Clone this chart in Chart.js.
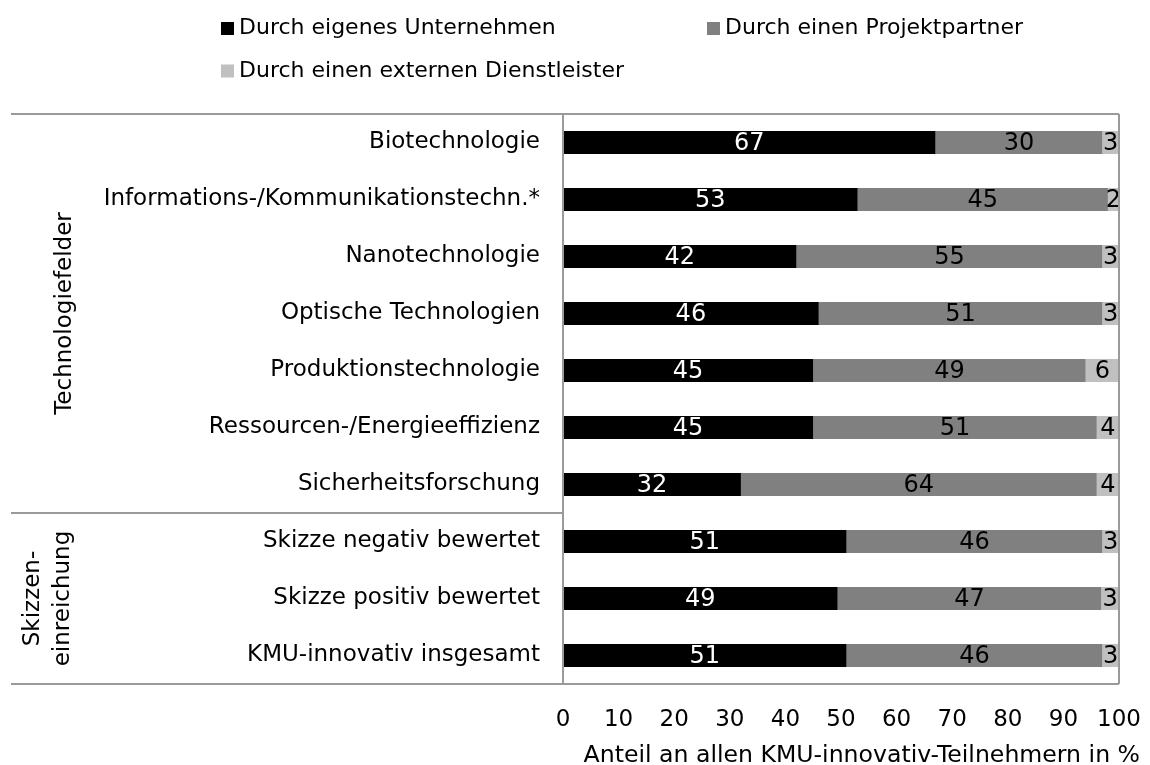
<!DOCTYPE html>
<html><head><meta charset="utf-8">
<script src="https://cdn.jsdelivr.net/npm/chart.js@4.4.1/dist/chart.umd.min.js"></script>
<style>html,body{margin:0;padding:0;background:#fff}#wrap{width:1150px;height:765px;position:relative}</style>
</head><body><div id="wrap"><canvas id="c" width="1150" height="765"></canvas></div>
<script>
const categories = ['Biotechnologie','Informations-/Kommunikationstechn.*','Nanotechnologie','Optische Technologien','Produktionstechnologie','Ressourcen-/Energieeffizienz','Sicherheitsforschung','Skizze negativ bewertet','Skizze positiv bewertet','KMU-innovativ insgesamt'];
const eigenesUnternehmen = [67,53,42,46,45,45,32,51,49.4,51];
const projektpartner = [30,45,55,51,49,51,64,46,47.4,46];
const externerDienstleister = [3,2,3,3,6,4,4,3,3.2,3];
const seriesNames = ['Durch eigenes Unternehmen','Durch einen Projektpartner','Durch einen externen Dienstleister'];
const xTicks = [0,10,20,30,40,50,60,70,80,90,100];
const groupLabels = [['Technologiefelder'], ['Skizzen-','einreichung']];
const groupRanges = [[0,6],[7,9]];
const xTitle = 'Anteil an allen KMU-innovativ-Teilnehmern in %';

const FONT = 'DejaVu Sans';
const LINE = '#9a9a9a';

const decor = {
  id:'decor',
  afterDatasetsDraw(chart){
    const ctx = chart.ctx, a = chart.chartArea, ys = chart.scales.y;
    ctx.save();
    // data labels
    ctx.font = '24px "'+FONT+'"';
    ctx.textAlign = 'center'; ctx.textBaseline = 'middle';
    chart.data.datasets.forEach((ds,i)=>{
      const meta = chart.getDatasetMeta(i);
      meta.data.forEach((bar,j)=>{
        ctx.fillStyle = ds.labelColor;
        ctx.fillText(String(Math.round(ds.data[j])), (bar.x+bar.base)/2, bar.y+1);
      });
    });
    // frame lines
    ctx.strokeStyle = LINE; ctx.lineWidth = 2;
    const leftX = 11;
    const sepY = Math.round((ys.getPixelForValue(groupRanges[0][1]) + ys.getPixelForValue(groupRanges[1][0]))/2);
    ctx.beginPath();
    ctx.moveTo(leftX, a.top); ctx.lineTo(a.right, a.top);
    ctx.moveTo(leftX, a.bottom); ctx.lineTo(a.right, a.bottom);
    ctx.moveTo(a.right, a.top); ctx.lineTo(a.right, a.bottom);
    ctx.moveTo(a.left, a.top); ctx.lineTo(a.left, a.bottom);
    ctx.moveTo(leftX, sepY); ctx.lineTo(a.left, sepY);
    ctx.stroke();
    // group labels
    ctx.fillStyle = '#000';
    ctx.font = '23px "'+FONT+'"';
    const bounds = [[a.top, sepY],[sepY, a.bottom]];
    const xs = [[65],[33,63]];
    groupLabels.forEach((lines,g)=>{
      const cy = (bounds[g][0]+bounds[g][1])/2;
      lines.forEach((t,k)=>{
        ctx.save();
        ctx.translate(xs[g][k], cy);
        ctx.rotate(-Math.PI/2);
        ctx.textAlign='center'; ctx.textBaseline='middle';
        ctx.fillText(t,0,0);
        ctx.restore();
      });
    });
    // legend
    const legPos = [[221,28.5],[707,28.5],[221,71]];
    ctx.font = '22px "'+FONT+'"';
    ctx.textAlign='left'; ctx.textBaseline='middle';
    chart.data.datasets.forEach((ds,i)=>{
      const [lx,ly] = legPos[i];
      ctx.fillStyle = ds.backgroundColor;
      ctx.fillRect(lx, ly-6.5, 13, 13);
      ctx.fillStyle = '#000';
      ctx.fillText(ds.label, lx+18, ly);
    });
    // x axis title
    ctx.font = '23.6px "'+FONT+'"';
    ctx.textAlign='right'; ctx.textBaseline='middle';
    ctx.fillText(xTitle, a.right+21, 756);
    ctx.restore();
  }
};

new Chart(document.getElementById('c'), {
  type:'bar',
  data:{
    labels:categories,
    datasets:[
      {label:seriesNames[0], data:eigenesUnternehmen, backgroundColor:'#000000', labelColor:'#ffffff'},
      {label:seriesNames[1], data:projektpartner, backgroundColor:'#808080', labelColor:'#000000'},
      {label:seriesNames[2], data:externerDienstleister, backgroundColor:'#c0c0c0', labelColor:'#000000'}
    ]
  },
  options:{
    indexAxis:'y', responsive:false, animation:false,
    layout:{padding:{top:114,right:31,left:0,bottom:0}},
    datasets:{bar:{barPercentage:0.405, categoryPercentage:1, borderWidth:0}},
    plugins:{legend:{display:false}, tooltip:{enabled:false}, title:{display:false}},
    scales:{
      x:{stacked:true, min:0, max:100,
        afterBuildTicks(s){ s.ticks = xTicks.map(v=>({value:v})); },
        ticks:{font:{family:FONT,size:23}, color:'#000', padding:22, maxRotation:0, autoSkip:false},
        grid:{display:false, drawTicks:false}, border:{display:false},
        afterFit(s){ s.height = 81; s.paddingLeft = 0; s.paddingRight = 0; }
      },
      y:{stacked:true,
        ticks:{font:{family:FONT,size:23}, color:'#000', padding:23, autoSkip:false},
        grid:{display:false, drawTicks:false}, border:{display:false},
        afterFit(s){ s.width = 563; s.paddingTop = 0; s.paddingBottom = 0; }
      }
    }
  },
  plugins:[decor]
});
</script>
</body></html>
